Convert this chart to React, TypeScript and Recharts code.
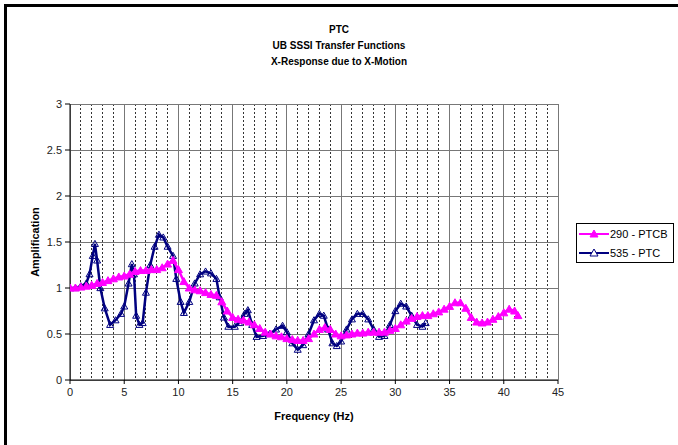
import { LineChart, Line, XAxis, YAxis, CartesianGrid, Label } from 'recharts'

const titleLines = ['PTC', 'UB SSSI Transfer Functions', 'X-Response due to X-Motion']

const xTicks = [0, 5, 10, 15, 20, 25, 30, 35, 40, 45]
const xMinor = [1, 2, 3, 4, 6, 7, 8, 9, 11, 12, 13, 14, 16, 17, 18, 19, 21, 22, 23, 24, 26, 27, 28, 29, 31, 32, 33, 34, 36, 37, 38, 39, 41, 42, 43, 44]
const yTicks = [0, 0.5, 1, 1.5, 2, 2.5, 3]

// 290 - PTCB
const ptcbFreq = [
  0, 0.5, 1, 1.5, 2, 2.5, 3, 3.5, 4, 4.5, 5, 5.5, 6, 6.5, 7, 7.5, 8, 8.5, 9, 9.5,
  10, 10.5, 11, 11.5, 12, 12.5, 13, 13.5, 14, 14.5, 15, 15.5, 16, 16.5, 17, 17.5, 18, 18.5, 19, 19.5,
  20, 20.5, 21, 21.5, 22, 22.5, 23, 23.5, 24, 24.5, 25, 25.5, 26, 26.5, 27, 27.5, 28, 28.5, 29, 29.5,
  30, 30.5, 31, 31.5, 32, 32.5, 33, 33.5, 34, 34.5, 35, 35.5, 36, 36.5, 37, 37.5, 38, 38.5, 39, 39.5,
  40, 40.5, 41, 41.3,
]
const ptcbAmp = [
  1.0, 1.0, 1.01, 1.02, 1.03, 1.05, 1.06, 1.08, 1.1, 1.12, 1.13, 1.15, 1.18, 1.19, 1.19, 1.2, 1.2, 1.22, 1.26, 1.3,
  1.2, 1.07, 1.0, 0.98, 0.97, 0.95, 0.93, 0.92, 0.85, 0.75, 0.68, 0.66, 0.65, 0.63, 0.6, 0.56, 0.52, 0.5, 0.48, 0.47,
  0.45, 0.44, 0.43, 0.43, 0.45, 0.5, 0.55, 0.57, 0.55, 0.5, 0.48, 0.49, 0.5, 0.51, 0.51, 0.52, 0.52, 0.52, 0.52, 0.54,
  0.56, 0.6, 0.64, 0.67, 0.69, 0.7, 0.7, 0.72, 0.74, 0.77, 0.8, 0.84, 0.84, 0.78, 0.68, 0.63, 0.62, 0.63, 0.66, 0.69,
  0.73, 0.77, 0.75, 0.7,
]

// 535 - PTC
const ptcFreq = [
  0, 0.5, 1, 1.5, 1.8, 2.1, 2.3, 2.5, 2.8, 3.2, 3.7, 4.2, 4.7, 5, 5.4, 5.7, 5.9, 6.1, 6.4, 6.7,
  7, 7.4, 7.8, 8.2, 8.6, 9, 9.5, 9.8, 10.2, 10.5, 11, 11.5, 12, 12.5, 13, 13.5, 13.8, 14.2, 14.6, 15.2,
  15.6, 16.1, 16.4, 16.8, 17.2, 17.8, 18.4, 19, 19.6, 20, 20.5, 21, 21.5, 22, 22.5, 23, 23.4, 23.8, 24.2, 24.6,
  25, 25.5, 26, 26.5, 27, 27.5, 28, 28.5, 29, 29.5, 30, 30.5, 31, 31.5, 32, 32.5, 32.8,
]
const ptcAmp = [
  1.0, 1.0, 1.02, 1.05, 1.15, 1.35, 1.48, 1.3, 1.0, 0.78, 0.6, 0.65, 0.72, 0.8, 1.05, 1.26, 1.15, 0.7, 0.6, 0.62,
  0.95, 1.25, 1.45, 1.58, 1.55, 1.45, 1.35, 1.1, 0.85, 0.73, 0.85, 1.05, 1.15, 1.18, 1.16, 1.1, 0.9, 0.68, 0.58, 0.58,
  0.62, 0.72, 0.76, 0.6, 0.47, 0.48, 0.5, 0.55, 0.59, 0.52, 0.4, 0.33, 0.38, 0.5, 0.65, 0.72, 0.7, 0.55, 0.4, 0.37,
  0.42, 0.55, 0.66, 0.72, 0.72, 0.66, 0.55, 0.47, 0.48, 0.6, 0.75, 0.83, 0.8, 0.7, 0.6, 0.58, 0.62,
]

const series = [
  { name: '290 - PTCB', color: '#ff00ff', filled: true },
  { name: '535 - PTC', color: '#000080', filled: false },
]

const ptcbData = ptcbFreq.map((f, i) => ({ f, a: ptcbAmp[i] }))
const ptcData = ptcFreq.map((f, i) => ({ f, a: ptcAmp[i] }))

const font = '"Liberation Sans", Arial, sans-serif'

function triangle(color: string, filled: boolean, r: number) {
  return (props: any) => {
    const { cx, cy, index } = props
    if (cx == null || cy == null) return <g key={index} />
    const pts = `${cx},${cy - r} ${cx - r},${cy + r * 0.75} ${cx + r},${cy + r * 0.75}`
    return (
      <polygon
        key={index}
        points={pts}
        fill={filled ? color : 'none'}
        stroke={color}
        strokeWidth={1}
      />
    )
  }
}

function LegendBox() {
  return (
    <div
      style={{
        position: 'absolute',
        left: 576,
        top: 223,
        width: 96,
        height: 38,
        border: '1px solid #000',
        background: '#fff',
        fontFamily: font,
        fontSize: 11,
        color: '#000',
      }}
    >
      {series.map((s, i) => (
        <div key={s.name} style={{ position: 'absolute', left: 2, top: 3 + i * 19, height: 14, display: 'flex', alignItems: 'center' }}>
          <svg width={30} height={14}>
            <line x1={0} y1={7} x2={30} y2={7} stroke={s.color} strokeWidth={2} />
            <polygon points="15,3 11,10 19,10" fill={s.filled ? s.color : '#fff'} stroke={s.color} strokeWidth={1} />
          </svg>
          <span style={{ marginLeft: 1 }}>{s.name}</span>
        </div>
      ))}
    </div>
  )
}

export default function App() {
  return (
    <div style={{ position: 'absolute', left: 0, top: 0, width: 678, height: 445, overflow: 'hidden', background: '#fff' }}>
      <div
        style={{
          position: 'absolute',
          left: 4,
          top: 4,
          width: 720,
          height: 480,
          borderLeft: '3px solid #000',
          borderTop: '3px solid #000',
        }}
      />
      {titleLines.map((t, i) => (
        <div
          key={t}
          style={{
            position: 'absolute',
            left: 239,
            width: 200,
            top: 24 + i * 16,
            textAlign: 'center',
            fontFamily: font,
            fontWeight: 'bold',
            fontSize: 10,
            color: '#000',
          }}
        >
          {t}
        </div>
      ))}
      <div style={{ position: 'absolute', left: 0, top: 0 }}>
        <LineChart
          width={678}
          height={445}
          margin={{ top: 104, right: 120, bottom: 35, left: 40 }}
          style={{ fontFamily: font }}
        >
          <CartesianGrid
            xAxisId="minor"
            vertical
            horizontal={false}
            stroke="#333"
            strokeDasharray="2 2"
            shapeRendering="crispEdges"
          />
          <CartesianGrid vertical horizontal stroke="#777" shapeRendering="crispEdges" />
          <XAxis
            xAxisId="minor"
            type="number"
            dataKey="f"
            domain={[0, 45]}
            ticks={xMinor}
            interval={0}
            allowDataOverflow
            hide
          />
          <XAxis
            type="number"
            dataKey="f"
            domain={[0, 45]}
            ticks={xTicks}
            interval={0}
            allowDataOverflow
            height={30}
            stroke="#000"
            tickSize={4}
            tick={{ fill: '#222', fontSize: 11 }}
            tickMargin={4}
          >
            <Label value="Frequency (Hz)" position="bottom" offset={2} style={{ fontWeight: 'bold', fontSize: 11, fill: '#000' }} />
          </XAxis>
          <YAxis
            type="number"
            dataKey="a"
            domain={[0, 3]}
            ticks={yTicks}
            allowDataOverflow
            width={30}
            stroke="#000"
            tickSize={5}
            tickMargin={3}
            tick={{ fill: '#222', fontSize: 11 }}
          >
            <Label value="Amplification" angle={-90} position="left" offset={5} style={{ fontWeight: 'bold', fontSize: 11, fill: '#000', textAnchor: 'middle' }} />
          </YAxis>
          <Line
            data={ptcData}
            dataKey="a"
            name={series[1].name}
            stroke={series[1].color}
            strokeWidth={2.5}
            dot={triangle(series[1].color, false, 3.5)}
            activeDot={false}
            isAnimationActive={false}
            type="linear"
          />
          <Line
            data={ptcbData}
            dataKey="a"
            name={series[0].name}
            stroke={series[0].color}
            strokeWidth={2.5}
            dot={triangle(series[0].color, true, 4)}
            activeDot={false}
            isAnimationActive={false}
            type="linear"
          />
        </LineChart>
      </div>
      <LegendBox />
    </div>
  )
}
